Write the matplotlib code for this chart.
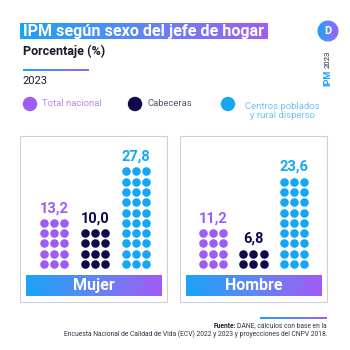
import numpy as np
import matplotlib
matplotlib.use("Agg")
import matplotlib.pyplot as plt
from matplotlib.colors import LinearSegmentedColormap
from matplotlib.patches import Rectangle, Circle

# IPM por sexo del jefe de hogar, 2023
groups = ["Total nacional", "Cabeceras", "Centros poblados\ny rural disperso"]
sexes = ["Mujer", "Hombre"]
ipm_mujer = [13.2, 10.0, 27.8]
ipm_hombre = [11.2, 6.8, 23.6]
# filas de puntos (3 por fila) de cada columna del pictograma
rows_mujer = [5, 4, 10]
rows_hombre = [4, 2, 9]

PURPLE = "#9d5cf4"
NAVY = "#0e0b4d"
CYAN = "#15a7f6"
group_colors = [PURPLE, NAVY, CYAN]
legend_text_colors = ["#b48cf2", "#56566a", "#6ec3f2"]
grad = LinearSegmentedColormap.from_list("ipm", ["#1aa3f7", "#5f86f6", "#a25cf3"])

W = H = 350
fig = plt.figure(figsize=(3.5, 3.5), dpi=100)
bg = fig.add_axes([0, 0, 1, 1])
bg.set_xlim(0, W)
bg.set_ylim(H, 0)
bg.axis("off")

ramp = np.linspace(0, 1, 256).reshape(1, -1)


def gradient_box(x0, y0, x1, y1, z=1):
    bg.imshow(ramp, cmap=grad, extent=(x0, x1, y1, y0), aspect="auto", zorder=z)


# cabecera
gradient_box(20, 23, 268, 39)
bg.text(23, 31.5, "IPM según sexo del jefe de hogar", color="white", fontsize=11.6,
        fontweight="bold", family="Roboto", va="center", ha="left", zorder=3)
bg.text(23, 51, "Porcentaje (%)", color="#1b1b2b", fontsize=9, fontweight="semibold",
        family="Roboto", va="center", ha="left")
gradient_box(23, 69.5, 89, 71)
bg.text(22, 80.5, "2023", color="#1b1b2b", fontsize=8, family="Roboto", va="center", ha="left")

# logo
logo = bg.imshow(ramp, cmap=grad, extent=(317, 339, 42, 20), aspect="auto", zorder=2)
clip = Circle((328, 31), 10.5, transform=bg.transData)
logo.set_clip_path(clip)
bg.text(328, 31.5, "D", color="white", fontsize=8, fontweight="bold", family="Roboto",
        ha="center", va="center", zorder=3)
bg.text(328, 86, "IPM", color="#1aa3f7", fontsize=6.5, fontweight="bold", family="Roboto",
        rotation=90, ha="left", va="center", rotation_mode="anchor")
bg.text(328, 68.5, "2023", color="#222233", fontsize=5.5, family="Roboto",
        rotation=90, ha="left", va="center", rotation_mode="anchor")

# leyenda
legend_x = [30, 135, 228]
for lx, name, c, tc in zip(legend_x, groups, group_colors, legend_text_colors):
    bg.add_patch(Circle((lx, 104), 6.5, color=c, zorder=2))
    if "\n" in name:
        bg.text(lx + 17, 111, name, color=tc, fontsize=6.8, family="Roboto",
                ha="left", va="center", linespacing=1.05, multialignment="center")
    else:
        bg.text(lx + 12, 103.5, name, color=tc, fontsize=6.8, family="Roboto",
                ha="left", va="center")

# paneles
panels = [(20, 167), (180, 327)]
for (px0, px1), sexo in zip(panels, sexes):
    bg.add_patch(Rectangle((px0, 136), px1 - px0, 166, fill=False,
                           edgecolor="#cfcfda", linewidth=0.8, zorder=1))
    gradient_box(px0 + 6, 275, px1 - 5, 296, z=2)
    bg.text((px0 + px1) / 2 + 0.5, 285.5, sexo, color="white", fontsize=11.5,
            fontweight="bold", family="Roboto", ha="center", va="center", zorder=3)

# pictogramas: x = índice del grupo, y = fila
panel_data = [(ipm_mujer, rows_mujer, 54, 41.0), (ipm_hombre, rows_hombre, 213, 40.5)]
ax_top, ax_bot, row_px, base_px = 140, 272, 10.3, 264
for (vals, rows, x0px, gpx), (px0, px1) in zip(panel_data, panels):
    ax = fig.add_axes([px0 / W, 1 - ax_bot / H, (px1 - px0) / W, (ax_bot - ax_top) / H])
    ax.set_xlim((px0 - x0px) / gpx, (px1 - x0px) / gpx)
    ax.set_ylim((base_px - ax_bot) / row_px, (base_px - ax_top) / row_px)
    ax.axis("off")
    ax.patch.set_alpha(0)
    step = 0.25 * 41.0 / gpx
    for i, (v, n, c) in enumerate(zip(vals, rows, group_colors)):
        gx, gy = np.meshgrid(i + np.array([-step, 0, step]), np.arange(n))
        ax.scatter(gx.ravel(), gy.ravel(), s=38, color=c, linewidths=0)
        ax.text(i, n - 1 + 0.75, f"{v:.1f}".replace(".", ","), color=c, fontsize=10.5,
                fontweight="bold", family="Roboto", ha="center", va="bottom")

# pie
gradient_box(260, 317.5, 327, 319.5)
src = bg.text(327, 326, "DANE, cálculos con base en la", color="#333344", fontsize=4.9,
              family="Roboto", ha="right", va="center")
fig.canvas.draw()
src_left = bg.transData.inverted().transform(src.get_window_extent().p0)[0]
bg.text(src_left - 1.5, 326, "Fuente:", color="#222233", fontsize=4.9, fontweight="bold",
        family="Roboto", ha="right", va="center")
bg.text(327, 334.5, "Encuesta Nacional de Calidad de Vida (ECV) 2022 y 2023 y proyecciones del CNPV 2018.",
        color="#333344", fontsize=4.9, family="Roboto", ha="right", va="center")

fig.savefig("out.png", dpi=100, facecolor="white")
